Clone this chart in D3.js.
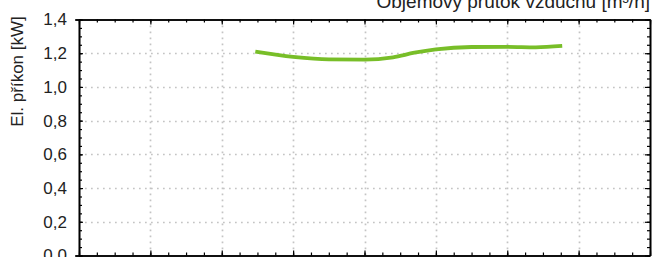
<!DOCTYPE html>
<html>
<head>
<meta charset="utf-8">
<script src="https://cdn.jsdelivr.net/npm/d3@7"></script>
<style>
  body { margin: 0; background: #fff; }
  svg { display: block; font-family: 'Liberation Sans', Arial, sans-serif; }
</style>
</head>
<body>
<script>
const w = 657;
const h = 257;

// air flow [m3/h] vs electric power [kW]
const flow = [247, 300, 350, 400, 440, 470, 500, 550, 600, 640, 677];
const power = [1.209, 1.178, 1.163, 1.162, 1.176, 1.203, 1.223, 1.237, 1.238, 1.235, 1.243];

const yTicks = [0, 0.2, 0.4, 0.6, 0.8, 1.0, 1.2, 1.4];
const xTicks = [0, 100, 200, 300, 400, 500, 600, 700, 800];

const mLeft = 79, mRight = 650, mTop = 19.5, mBottom = 255.5;

const x = d3.scaleLinear().domain([0, 800]).range([mLeft, mRight]);
const y = d3.scaleLinear().domain([0, 1.4]).range([mBottom, mTop]);

const svg = d3.select('body')
  .append('svg')
  .attr('width', w)
  .attr('height', h);

// grid
svg.append('g')
  .selectAll('line')
  .data(xTicks.slice(1, -1))
  .enter()
  .append('line')
  .attr('x1', d => Math.round(x(d)) + 0.5)
  .attr('x2', d => Math.round(x(d)) + 0.5)
  .attr('y1', mTop)
  .attr('y2', mBottom)
  .style('stroke', '#c4c4c4')
  .style('stroke-width', 1.7)
  .style('stroke-dasharray', '1.7,4.3');

svg.append('g')
  .selectAll('line')
  .data(yTicks.slice(1, -1))
  .enter()
  .append('line')
  .attr('x1', mLeft)
  .attr('x2', mRight)
  .attr('y1', d => Math.round(y(d)) + 0.5)
  .attr('y2', d => Math.round(y(d)) + 0.5)
  .style('stroke', '#c4c4c4')
  .style('stroke-width', 1.7)
  .style('stroke-dasharray', '1.7,4.3');

const fmt = d => d3.format('.1f')(d).replace('.', ',');
const yMinor = d3.range(0, 1.4001, 0.05);
const xMinor = d3.range(0, 800.1, 25);

// left axis: ticks cross the line
const gl = svg.append('g').attr('transform', `translate(${mLeft},0)`);
gl.call(d3.axisLeft(y).tickValues(yMinor).tickSize(3).tickFormat(''));
gl.selectAll('.tick line').attr('x2', 3);
const glm = svg.append('g').attr('transform', `translate(${mLeft},0)`);
glm.call(d3.axisLeft(y).tickValues(yTicks).tickSize(4).tickPadding(8).tickFormat(fmt));
glm.selectAll('.tick line').attr('x2', 4);
glm.selectAll('text').style('font-size', '17px').style('fill', '#222');

// right axis, ticks inside
svg.append('g').attr('transform', `translate(${mRight},0)`)
  .call(d3.axisLeft(y).tickValues(yMinor).tickSizeInner(3).tickSizeOuter(0).tickFormat(''));
svg.append('g').attr('transform', `translate(${mRight},0)`)
  .call(d3.axisLeft(y).tickValues(yTicks).tickSizeInner(5).tickSizeOuter(0).tickFormat(''));

// top and bottom axes, ticks inside
svg.append('g').attr('transform', `translate(0,${mTop})`)
  .call(d3.axisBottom(x).tickValues(xMinor).tickSizeInner(3).tickSizeOuter(0).tickFormat(''));
svg.append('g').attr('transform', `translate(0,${mTop})`)
  .call(d3.axisBottom(x).tickValues(xTicks).tickSizeInner(5).tickSizeOuter(0).tickFormat(''));
svg.append('g').attr('transform', `translate(0,${mBottom})`)
  .call(d3.axisTop(x).tickValues(xMinor).tickSizeInner(3).tickSizeOuter(0).tickFormat(''));
svg.append('g').attr('transform', `translate(0,${mBottom})`)
  .call(d3.axisTop(x).tickValues(xTicks).tickSizeInner(5).tickSizeOuter(0).tickFormat(''));

svg.selectAll('.domain').style('stroke', '#000').style('stroke-width', 1.6);
svg.selectAll('.tick line').style('stroke', '#000').style('stroke-width', 1.2);

// data line
const line = d3.line()
  .x((d, i) => x(flow[i]))
  .y(d => y(d))
  .curve(d3.curveMonotoneX);

svg.append('path')
  .datum(power)
  .attr('d', line)
  .style('fill', 'none')
  .style('stroke', '#78be28')
  .style('stroke-width', 3.8);

// titles
svg.append('text')
  .attr('x', mRight)
  .attr('y', 8)
  .attr('text-anchor', 'end')
  .style('font-size', '19px')
  .style('fill', '#222')
  .text('Objemový průtok vzduchu [m³/h]');

svg.append('text')
  .attr('transform', 'translate(23,71.5) rotate(-90)')
  .attr('text-anchor', 'middle')
  .style('font-size', '17px')
  .style('fill', '#222')
  .text('El. příkon [kW]');
</script>
</body>
</html>
